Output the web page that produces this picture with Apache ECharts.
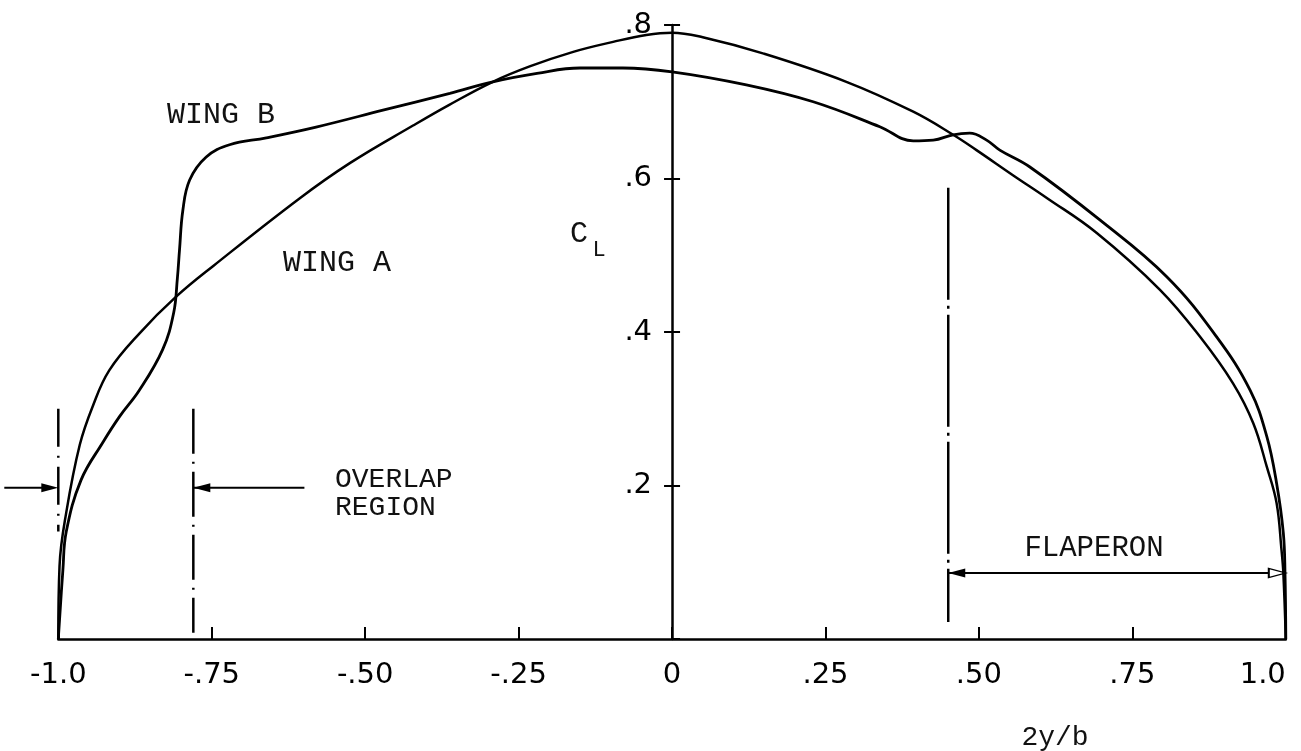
<!DOCTYPE html>
<html><head><meta charset="utf-8">
<script src="https://cdn.jsdelivr.net/npm/echarts@6/dist/echarts.min.js"></script>
<style>html,body{margin:0;padding:0;background:#fff}#c{width:1301px;height:751px}</style>
</head><body><div id="c"></div>
<script>
// ---- data ----
const xTickValues = [-1, -0.75, -0.5, -0.25, 0, 0.25, 0.5, 0.75, 1];
const xTickLabels = ['-1.0', '-.75', '-.50', '-.25', '0', '.25', '.50', '.75', '1.0'];
const yTickValues = [0, 0.2, 0.4, 0.6, 0.8];
const yTickLabels = ['', '.2', '.4', '.6', '.8'];

const wingA = [
  [-1.0, 0], [-0.998, 0.095], [-0.987, 0.165], [-0.965, 0.253], [-0.944, 0.303],
  [-0.917, 0.350], [-0.868, 0.398], [-0.808, 0.446], [-0.746, 0.487], [-0.607, 0.574],
  [-0.525, 0.620], [-0.422, 0.669], [-0.363, 0.696], [-0.292, 0.726], [-0.232, 0.746],
  [-0.161, 0.765], [-0.096, 0.778], [-0.042, 0.787], [0.0, 0.790], [0.05, 0.784],
  [0.148, 0.763], [0.284, 0.726], [0.393, 0.687], [0.458, 0.657], [0.496, 0.637],
  [0.556, 0.604], [0.610, 0.575], [0.692, 0.529], [0.795, 0.455], [0.860, 0.394],
  [0.914, 0.333], [0.947, 0.281], [0.969, 0.2245], [0.985, 0.177], [0.993, 0.116],
  [0.996, 0.086], [1.0, 0]
];
const wingB = [
  [-1.0, 0], [-0.9925, 0.09], [-0.987, 0.14], [-0.963, 0.207], [-0.9275, 0.256],
  [-0.900, 0.290], [-0.868, 0.324], [-0.830, 0.377], [-0.812, 0.425], [-0.806, 0.470],
  [-0.8025, 0.507], [-0.797, 0.559], [-0.786, 0.598], [-0.759, 0.628], [-0.721, 0.644],
  [-0.661, 0.653], [-0.580, 0.667], [-0.471, 0.689], [-0.362, 0.711], [-0.292, 0.726],
  [-0.220, 0.737], [-0.150, 0.744], [-0.080, 0.744], [0.0, 0.739], [0.121, 0.722],
  [0.230, 0.700], [0.3385, 0.6675], [0.393, 0.649], [0.4255, 0.650], [0.458, 0.657],
  [0.485, 0.659], [0.5125, 0.650], [0.534, 0.637], [0.583, 0.615], [0.697, 0.546],
  [0.806, 0.472], [0.887, 0.394], [0.942, 0.324], [0.969, 0.264], [0.985, 0.203],
  [0.996, 0.138], [0.9987, 0.086], [1.0, 0]
];

// annotation values (data units)
const overlapEdges = [-1.0, -0.78];
const overlapArrowY = 0.197;
const overlapArrowTails = [-1.088, -0.599];
const flaperonStart = 0.45;
const flaperonEnd = 1.0;
const flaperonArrowY = 0.086;

// ---- chart ----
const W = 1301, GL = 58.3, GR = 15.2;
const midOffset = -(W - GL - GR) / 2;   // moves the CL axis to 2y/b = 0
const chart = echarts.init(document.getElementById('c'), null, {renderer: 'canvas'});
const K = '#000';
const tickFont = '"DejaVu Sans", sans-serif';
const typeFont = '"Liberation Mono", "Courier New", monospace';

function guide(x, yTop, yBot, pattern) {
  return {
    type: 'line', data: [[x, yTop], [x, yBot]], showSymbol: false, silent: true,
    lineStyle: {color: K, width: 2.5, type: pattern}, z: 3
  };
}
function arrow(fromX, toX, y, rot, off) {
  return {
    type: 'line', clip: false, silent: true, color: K, z: 4,
    lineStyle: {color: K, width: 2},
    data: [
      {value: [fromX, y], symbol: 'none'},
      {value: [toX, y], symbol: 'triangle', symbolSize: [9, 17], symbolRotate: rot, symbolOffset: [off, 0], itemStyle: {color: K}}
    ]
  };
}
const fmt = (vals, labs) => v => { const i = vals.findIndex(t => Math.abs(t - v) < 1e-9); return i >= 0 ? labs[i] : ''; };

const option = {
  animation: false,
  backgroundColor: '#fff',
  grid: {left: GL, right: GR, top: 25, bottom: 112, containLabel: false, outerBoundsMode: 'none'},
  xAxis: {
    type: 'value', min: -1, max: 1, interval: 0.25,
    axisLine: {onZero: false, lineStyle: {color: K, width: 2.5}},
    axisTick: {inside: true, length: 12, lineStyle: {color: K, width: 2}},
    splitLine: {show: false},
    axisLabel: {color: K, fontFamily: tickFont, fontSize: 29, margin: 22, alignMaxLabel: 'right',
      formatter: fmt(xTickValues, xTickLabels)}
  },
  yAxis: [{
    type: 'value', min: 0, max: 0.8, interval: 0.2, position: 'left', offset: midOffset,
    axisLine: {show: true, onZero: false, lineStyle: {color: K, width: 2.5}},
    axisTick: {show: true, inside: false, length: 8, lineStyle: {color: K, width: 2}},
    splitLine: {show: false},
    axisLabel: {color: K, fontFamily: tickFont, fontSize: 29, margin: 20, showMinLabel: false,
      formatter: fmt(yTickValues, yTickLabels)}
  }, {
    type: 'value', min: 0, max: 0.8, interval: 0.2, position: 'right', offset: midOffset,
    axisLine: {show: false, onZero: false},
    axisTick: {show: true, inside: false, length: 8, lineStyle: {color: K, width: 2}},
    splitLine: {show: false},
    axisLabel: {show: false}
  }],
  series: [
    {name: 'WING A', type: 'line', data: wingA, smooth: 0.4, showSymbol: false, silent: true,
     lineStyle: {color: K, width: 2.5}, z: 5},
    {name: 'WING B', type: 'line', data: wingB, smooth: 0.4, showSymbol: false, silent: true,
     lineStyle: {color: K, width: 2.8}, z: 5},
    guide(overlapEdges[0], 0.30, 0.14, [38, 9, 2, 9]),
    guide(overlapEdges[1], 0.30, 0.008, [45, 8, 2, 8]),
    guide(flaperonStart, 0.588, 0.022, [112, 6, 3, 6]),
    arrow(overlapArrowTails[0], overlapEdges[0], overlapArrowY, -90, -8.5),
    arrow(overlapArrowTails[1], overlapEdges[1], overlapArrowY, 90, 8.5),
    {
      type: 'line', clip: false, silent: true, color: K, z: 4,
      lineStyle: {color: K, width: 2},
      data: [
        {value: [flaperonStart, flaperonArrowY], symbol: 'triangle', symbolSize: [9, 17], symbolRotate: 90, symbolOffset: [8.5, 0], itemStyle: {color: K}},
        {value: [flaperonEnd, flaperonArrowY], symbol: 'triangle', symbolSize: [9, 17], symbolRotate: -90, symbolOffset: [-8.5, 0],
         itemStyle: {color: '#fff', borderColor: K, borderWidth: 1.5}}
      ]
    }
  ],
  graphic: [
    {id: 'wb', type: 'text', x: 221, y: 115, style: {text: 'WING B', font: '30px ' + typeFont, fill: '#111', align: 'center', verticalAlign: 'middle'}},
    {id: 'wa', type: 'text', x: 337, y: 263, style: {text: 'WING A', font: '30px ' + typeFont, fill: '#111', align: 'center', verticalAlign: 'middle'}},
    {id: 'ov', type: 'text', x: 335, y: 480, style: {text: 'OVERLAP', font: '28px ' + typeFont, fill: '#111', align: 'left', verticalAlign: 'middle'}},
    {id: 'rg', type: 'text', x: 335, y: 508, style: {text: 'REGION', font: '28px ' + typeFont, fill: '#111', align: 'left', verticalAlign: 'middle'}},
    {id: 'fl', type: 'text', x: 1094, y: 548, style: {text: 'FLAPERON', font: '29px ' + typeFont, fill: '#111', align: 'center', verticalAlign: 'middle'}},
    {id: 'c', type: 'text', x: 579, y: 234, style: {text: 'C', font: '30px ' + typeFont, fill: '#111', align: 'center', verticalAlign: 'middle'}},
    {id: 'l', type: 'text', x: 599, y: 250, style: {text: 'L', font: '22px ' + typeFont, fill: '#111', align: 'center', verticalAlign: 'middle'}},
    {id: 'xn', type: 'text', x: 1055, y: 738, style: {text: '2y/b', font: '28px ' + typeFont, fill: '#111', align: 'center', verticalAlign: 'middle'}}
  ]
};
chart.setOption(option);

// tail of the outer overlap arrow lies left of the plot area: extend it with the axis scale
const q = {xAxisIndex: 0, yAxisIndex: 0};
const p0 = chart.convertToPixel(q, [overlapEdges[0], overlapArrowY]);
const p1 = chart.convertToPixel(q, [0, overlapArrowY]);
const pxPerUnit = (p1[0] - p0[0]) / (0 - overlapEdges[0]);
const tailPx = p0[0] + (overlapArrowTails[0] - overlapEdges[0]) * pxPerUnit;
chart.setOption({graphic: [{id: 'tail', type: 'line', z: 10,
  shape: {x1: tailPx, y1: p0[1], x2: p0[0] - 10, y2: p0[1]}, style: {stroke: K, lineWidth: 2}}]});
</script>
</body></html>
